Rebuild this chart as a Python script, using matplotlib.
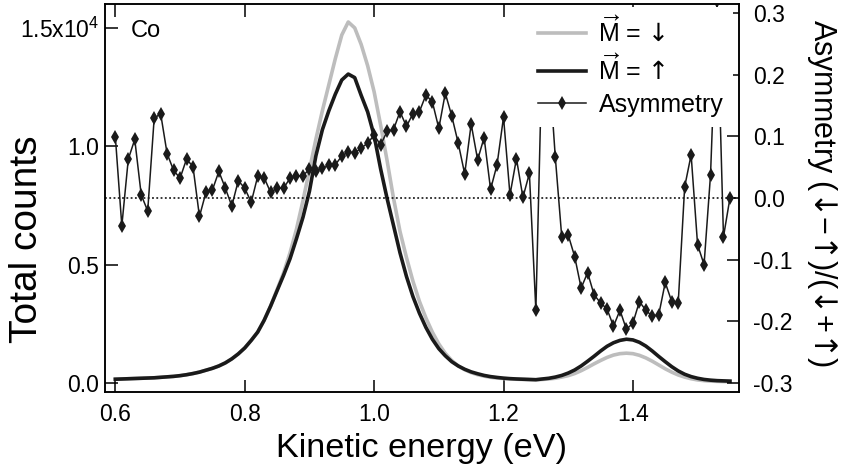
import numpy as np
import matplotlib.pyplot as plt

plt.rcParams['font.family'] = ['Liberation Sans', 'DejaVu Sans']
plt.rcParams['mathtext.fontset'] = 'custom'
plt.rcParams['mathtext.rm'] = 'Liberation Sans'
plt.rcParams['mathtext.it'] = 'Liberation Sans:italic'
plt.rcParams['mathtext.sf'] = 'DejaVu Sans'

# kinetic energy grid (eV), 0.60 ... 1.55
energy = np.round(np.arange(0.60, 1.555, 0.01), 2)

# total counts, magnetisation down (grey)
counts_down = [
    160, 170, 180, 190, 200, 210, 220, 240, 260, 280,
    310, 350, 400, 460, 540, 620, 720, 850, 1020, 1230,
    1480, 1800, 2150, 2650, 3250, 3950, 4650, 5500, 6500, 7700,
    9000, 10300, 11500, 12600, 13700, 14700, 15250, 15000, 14300, 13400,
    12300, 10900, 9400, 7800, 6400, 5300, 4300, 3450, 2750, 2150,
    1650, 1250, 950, 720, 560, 440, 350, 290, 240, 210,
    190, 170, 160, 150, 140, 135, 150, 170, 200, 250,
    310, 400, 520, 660, 810, 950, 1080, 1180, 1240, 1260,
    1240, 1170, 1060, 920, 760, 600, 460, 340, 250, 180,
    130, 100, 80, 70, 60, 55,
]

# total counts, magnetisation up (black)
counts_up = [
    160, 170, 180, 190, 200, 210, 220, 240, 260, 280,
    310, 350, 400, 460, 540, 620, 720, 850, 1020, 1230,
    1480, 1800, 2150, 2650, 3250, 3900, 4550, 5250, 6100, 7000,
    8100, 9600, 10700, 11500, 12200, 12800, 13050, 12900, 12150, 11450,
    10450, 9050, 7800, 6650, 5500, 4500, 3650, 2950, 2350, 1850,
    1450, 1150, 900, 720, 580, 470, 390, 320, 270, 235,
    205, 185, 170, 160, 150, 140, 170, 200, 250, 320,
    420, 550, 720, 920, 1130, 1350, 1550, 1700, 1800, 1850,
    1820, 1720, 1560, 1350, 1120, 900, 690, 510, 370, 270,
    200, 150, 120, 100, 90, 80,
]

# spin asymmetry (down - up)/(down + up)
asymmetry = [
    0.099, -0.045, 0.063, 0.095, 0.005, -0.021, 0.129, 0.137, 0.072, 0.045,
    0.032, 0.063, 0.051, -0.030, 0.009, 0.013, 0.043, 0.016, -0.013, 0.028,
    0.016, -0.007, 0.035, 0.033, 0.009, 0.016, 0.016, 0.032, 0.036, 0.036,
    0.047, 0.044, 0.048, 0.053, 0.054, 0.068, 0.075, 0.073, 0.081, 0.089,
    0.102, 0.086, 0.108, 0.111, 0.140, 0.116, 0.137, 0.140, 0.167, 0.156,
    0.113, 0.170, 0.133, 0.089, 0.039, 0.120, 0.062, 0.098, 0.014, 0.054,
    0.131, 0.005, 0.064, 0.001, 0.040, -0.182, 0.250, 0.220, 0.067, -0.063,
    -0.060, -0.095, -0.146, -0.121, -0.157, -0.170, -0.180, -0.208, -0.182, -0.213,
    -0.203, -0.168, -0.182, -0.192, -0.189, -0.137, -0.168, -0.171, 0.018, 0.070,
    -0.076, -0.108, 0.038, 0.320, -0.063, 0.000,
]

fig = plt.figure(figsize=(8.42, 4.70), dpi=100)
ax = fig.add_axes([105 / 842, 1 - 392 / 470, 634 / 842, 388 / 470])
ax2 = ax.twinx()

l_down, = ax.plot(energy, counts_down, color='#bdbdbd', lw=2.6,
                  label=r'$\overrightarrow{\mathrm{M}}$ = $\mathsf{↓}$')
l_up, = ax.plot(energy, counts_up, color='#1a1a1a', lw=2.6,
                label=r'$\overrightarrow{\mathrm{M}}$ = $\mathsf{↑}$')

ax2.axhline(0, color='black', lw=1.1, ls=(0, (1.2, 1.6)))
l_asym, = ax2.plot(energy, asymmetry, color='#1a1a1a', lw=1.1, marker='d',
                   markersize=7.5, markerfacecolor='#1a1a1a', markeredgewidth=0,
                   label='Asymmetry')

ax.set_xlim(0.584, 1.564)
ax.set_ylim(-380, 16010)
ax2.set_ylim(-0.3146, 0.3146)

ax.set_xticks([0.6, 0.8, 1.0, 1.2, 1.4])
ax.set_xticklabels(['0.6', '0.8', '1.0', '1.2', '1.4'])
ax.set_yticks([0, 5000, 10000, 15000])
ax.set_yticklabels(['0.0', '0.5', '1.0', r'1.5x10$^{4}$'])
ax2.set_yticks([-0.3, -0.2, -0.1, 0.0, 0.1, 0.2, 0.3])
ax2.set_yticklabels(['-0.3', '-0.2', '-0.1', '0.0', '0.1', '0.2', '0.3'])

ax.tick_params(axis='x', direction='in', top=True, length=9, width=1.1, labelsize=16.5, pad=8)
ax.tick_params(axis='y', direction='in', length=9, width=1.1, labelsize=16.5, pad=4)
ax2.tick_params(axis='y', direction='in', length=9, width=1.1, labelsize=16.5, pad=10)
for a in (ax, ax2):
    for s in a.spines.values():
        s.set_linewidth(1.1)

ax.text(0.04, 0.96, 'Co', transform=ax.transAxes, fontsize=17, va='top', ha='left')

fig.text(422 / 842, 1 - 449 / 470, 'Kinetic energy (eV)', fontsize=24.7, ha='center', va='center')
fig.text(27 / 842, 1 - 239 / 470, 'Total counts', fontsize=28, rotation=90, ha='center', va='center')
fig.text(822 / 842, 1 - 193 / 470, r'Asymmetry ($\mathsf{↓}$−$\mathsf{↑}$)/($\mathsf{↓}$+$\mathsf{↑}$)',
         fontsize=22, rotation=-90, ha='center', va='center')

leg = ax2.legend(handles=[l_down, l_up, l_asym], loc='upper left',
                 bbox_to_anchor=((526 - 105) / 634, 1.0), borderaxespad=0.1,
                 fontsize=18, handlelength=1.9, handletextpad=0.5, labelspacing=0.3,
                 frameon=True, fancybox=False, edgecolor='none', facecolor='white',
                 framealpha=1)
leg.set_zorder(5)

fig.savefig('out.png', dpi=100)
